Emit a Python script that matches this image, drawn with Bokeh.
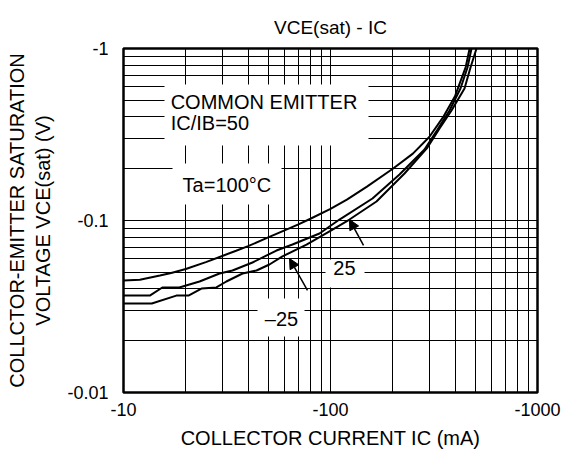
from bokeh.plotting import figure
from bokeh.models import FixedTicker, CustomJSTickFormatter, Label, Arrow, NormalHead
from bokeh.embed import file_html
from bokeh.resources import INLINE

# ---- data (IC in mA, shown negative; VCE(sat) in V, shown negative) ----
ic_100 = [10, 12, 15, 17, 20, 25, 30, 35, 40, 50, 60, 70, 80, 100, 120, 150, 200,
          250, 300, 350, 400, 450, 470]
v_100 = [0.0448, 0.0452, 0.0479, 0.0495, 0.0522, 0.0573, 0.0622, 0.0667, 0.0709,
         0.0797, 0.0876, 0.0950, 0.1024, 0.1167, 0.1321, 0.1574, 0.1998, 0.2449,
         0.3059, 0.3988, 0.530, 0.780, 1.0]

ic_25 = [10, 13.4, 15.4, 18.6, 23.3, 29.1, 33.6, 42.0, 54.8, 65.5, 88.5, 110.5,
         159.5, 215.4, 284.5, 328.9, 375.8, 424.6, 459.0, 480.0]
v_25 = [0.0366, 0.0366, 0.0408, 0.0408, 0.0442, 0.0492, 0.0512, 0.0570, 0.0669,
        0.0725, 0.0840, 0.1013, 0.1342, 0.1851, 0.2587, 0.3382, 0.4360, 0.5853,
        0.7753, 1.0]

ic_m25 = [10, 13.7, 18.0, 20.6, 23.8, 28.1, 31.4, 37.6, 43.9, 50.7, 58.6, 76.6,
          102.3, 123.5, 166.8, 227.8, 294.1, 336.3, 384.2, 444.0, 474.6, 507.5]
v_m25 = [0.0329, 0.0329, 0.0366, 0.0366, 0.0402, 0.0408, 0.0442, 0.0492, 0.0512,
         0.0555, 0.0618, 0.0725, 0.0886, 0.1013, 0.1290, 0.1876, 0.2657, 0.3426,
         0.4360, 0.5853, 0.7753, 1.0]

x_major = [10, 100, 1000]
y_major = [0.01, 0.1, 1]
x_grid = [10, 20, 30, 40, 50, 60, 70, 80, 90, 100,
          200, 300, 400, 500, 600, 700, 800, 900, 1000]
y_grid = [0.01, 0.02, 0.03, 0.04, 0.05, 0.06, 0.07, 0.08, 0.09, 0.1,
          0.2, 0.3, 0.4, 0.5, 0.6, 0.7, 0.8, 0.9, 1]

FONT = "Liberation Sans"

p = figure(x_axis_type="log", y_axis_type="log", x_range=(10, 1000), y_range=(0.01, 1),
           frame_width=414, frame_height=344,
           min_border_left=123, min_border_top=48, min_border_right=24, min_border_bottom=0,
           output_backend="svg", toolbar_location=None,
           background_fill_color="white", border_fill_color="white")

p.outline_line_color = "black"
p.outline_line_width = 2.5

# title
p.title.text = "VCE(sat) - IC"
p.title.align = "center"
p.title.text_font = FONT
p.title.text_font_size = "19px"
p.title.text_font_style = "normal"
p.title.text_color = "black"
p.title.standoff = 22
p.title.offset = 6

neg = CustomJSTickFormatter(code='return "-" + tick.toString();')

for ax, ticks in ((p.xaxis[0], x_major), (p.yaxis[0], y_major)):
    ax.ticker = FixedTicker(ticks=ticks)
    ax.formatter = neg
    ax.major_tick_out = 0
    ax.major_tick_in = 0
    ax.minor_tick_out = 0
    ax.minor_tick_in = 0
    ax.axis_line_color = None
    ax.major_label_text_font = FONT
    ax.major_label_text_font_size = "18px"
    ax.major_label_text_color = "black"
    ax.axis_label_text_font = FONT
    ax.axis_label_text_font_size = "20px"
    ax.axis_label_text_font_style = "normal"
    ax.axis_label_text_color = "black"

p.xaxis.axis_label = "COLLECTOR CURRENT IC (mA)"
p.yaxis.axis_label = "COLLCTOR-EMITTER SATURATION\nVOLTAGE VCE(sat) (V)"
p.xaxis.major_label_standoff = 10
p.xaxis.axis_label_standoff = 8
p.yaxis.major_label_standoff = 15
p.yaxis.axis_label_standoff = 10

p.xgrid.ticker = FixedTicker(ticks=x_grid)
p.ygrid.ticker = FixedTicker(ticks=y_grid)
for g in (p.xgrid[0], p.ygrid[0]):
    g.grid_line_color = "black"
    g.grid_line_width = 1
    g.grid_line_alpha = 1.0

# white boxes behind annotation texts (covering grid)
boxes = [  # (left, right, bottom, top) in data units
    (15.78, 152.6, 0.2729, 0.6174),
    (17.25, 58.0, 0.1239, 0.2145),
    (94.6, 146.0, 0.0408, 0.0593),
    (44.4, 74.9, 0.02116, 0.0352),
]
p.quad(left=[b[0] for b in boxes], right=[b[1] for b in boxes],
       bottom=[b[2] for b in boxes], top=[b[3] for b in boxes],
       fill_color="white", line_color=None)

# curves
for xs, ys in ((ic_100, v_100), (ic_25, v_25), (ic_m25, v_m25)):
    p.line(xs, ys, line_color="black", line_width=2)

# annotations
def lab(x, y, t, align="left"):
    p.add_layout(Label(x=x, y=y, text=t, text_font=FONT, text_font_size="20px",
                       text_baseline="middle", text_align=align, text_color="black"))

lab(16.9, 0.4917, "COMMON EMITTER")
lab(16.9, 0.3664, "IC/IB=50")
lab(19.3, 0.1598, "Ta=100°C")
lab(116.8, 0.0526, "25", "center")
lab(58.0, 0.0269, "–25", "center")

for xs, ys, xe, ye in ((144.4, 0.0716, 123.5, 0.1013), (77.4, 0.0392, 63.4, 0.0601)):
    p.add_layout(Arrow(end=NormalHead(size=10, fill_color="black", line_color="black"),
                       x_start=xs, y_start=ys, x_end=xe, y_end=ye,
                       line_color="black", line_width=1.5))

open("out.html", "w").write(file_html(p, INLINE))
